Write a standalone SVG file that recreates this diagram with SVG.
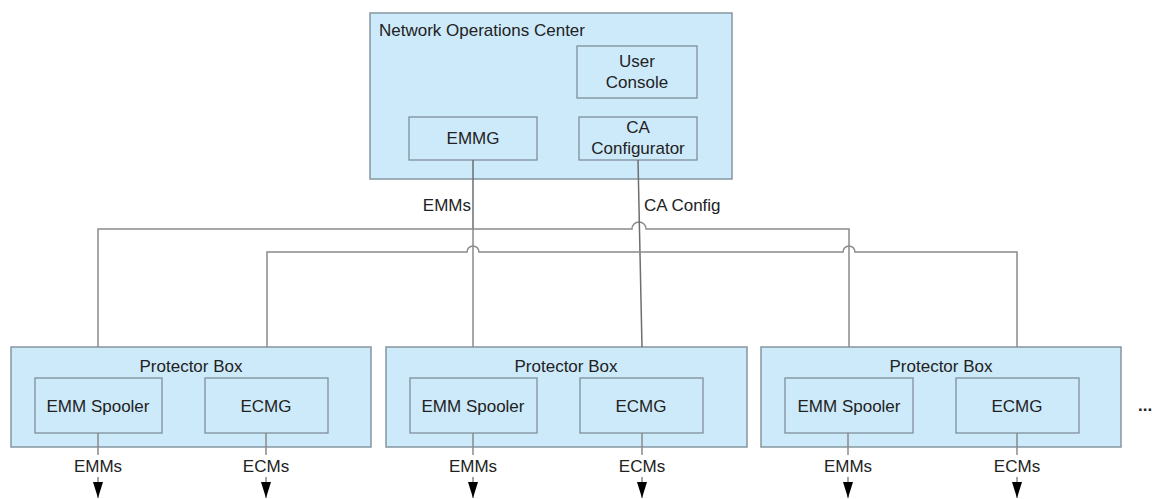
<svg xmlns="http://www.w3.org/2000/svg" width="1152" height="499" viewBox="0 0 1152 499">
  <style>
    text { font-family: "Liberation Sans", Arial, sans-serif; font-size: 17px; fill: #222222; }
    .mid { text-anchor: middle; }
    .outer { fill: #cdeafa; stroke: #8596a0; stroke-width: 1.5; }
    .inner { fill: #cdeafa; stroke: #7e8f9a; stroke-width: 1.3; }
    .wire { fill: none; stroke: #8a8a8a; stroke-width: 1.5; }
    .wire-dark { fill: none; stroke: #6e6e6e; stroke-width: 1.5; }
  </style>
  <defs>
    <!-- filled arrowhead, drawn along +x so orient="auto" turns it with the line -->
    <marker id="arrow" markerWidth="16" markerHeight="10" refX="16" refY="5" orient="auto" markerUnits="userSpaceOnUse" viewBox="0 0 16 10">
      <path d="M0,0 L16,5 L0,10 Z" fill="#000"/>
    </marker>
  </defs>
  <rect width="1152" height="499" fill="#ffffff"/>

  <!-- Network Operations Center -->
  <g id="noc">
    <rect class="outer" x="370" y="13" width="362" height="166"/>
    <text x="379" y="36">Network Operations Center</text>
  </g>
  <g id="user-console">
    <rect class="inner" x="577" y="46" width="120" height="52"/>
    <text class="mid" x="637" y="67">User</text>
    <text class="mid" x="637" y="88">Console</text>
  </g>
  <g id="emmg">
    <rect class="inner" x="409" y="117" width="128" height="43"/>
    <text class="mid" x="473" y="144">EMMG</text>
  </g>
  <g id="ca-configurator">
    <rect class="inner" x="579" y="117" width="118" height="43"/>
    <text class="mid" x="638" y="133">CA</text>
    <text class="mid" x="638" y="154">Configurator</text>
  </g>

  <!-- Protector boxes -->
  <g id="protector-1">
    <rect class="outer" x="11" y="347" width="360" height="100"/>
    <text class="mid" x="191" y="372">Protector Box</text>
  </g>
  <g id="emm-spooler-1">
    <rect class="inner" x="35" y="378" width="127" height="55"/>
    <text class="mid" x="98" y="412">EMM Spooler</text>
  </g>
  <g id="ecmg-1">
    <rect class="inner" x="205" y="378" width="123" height="55"/>
    <text class="mid" x="266" y="412">ECMG</text>
  </g>

  <g id="protector-2">
    <rect class="outer" x="386" y="347" width="361" height="100"/>
    <text class="mid" x="566" y="372">Protector Box</text>
  </g>
  <g id="emm-spooler-2">
    <rect class="inner" x="410" y="378" width="127" height="55"/>
    <text class="mid" x="473" y="412">EMM Spooler</text>
  </g>
  <g id="ecmg-2">
    <rect class="inner" x="580" y="378" width="123" height="55"/>
    <text class="mid" x="641" y="412">ECMG</text>
  </g>

  <g id="protector-3">
    <rect class="outer" x="761" y="347" width="360" height="100"/>
    <text class="mid" x="941" y="372">Protector Box</text>
  </g>
  <g id="emm-spooler-3">
    <rect class="inner" x="785" y="378" width="128" height="55"/>
    <text class="mid" x="849" y="412">EMM Spooler</text>
  </g>
  <g id="ecmg-3">
    <rect class="inner" x="956" y="378" width="123" height="55"/>
    <text class="mid" x="1017" y="412">ECMG</text>
  </g>

  <text id="more" x="1138" y="411" style="font-weight:bold">...</text>

  <!-- Connectors -->
  <g id="connectors">
    <!-- EMM distribution bus -->
    <path class="wire-dark" d="M473,160 V229"/>
    <path class="wire" d="M98,347 V229 H632 A7,7 0 0 1 646,229 H849 V347"/>
    <path class="wire" d="M473,229 V347"/>
    <!-- CA config bus -->
    <path class="wire-dark" d="M638,160 L642,347"/>
    <path class="wire" d="M267,347 V252 H467 A6,6 0 0 1 479,252 H843 A6,6 0 0 1 855,252 H1017 V347"/>

    <!-- Outputs -->
    <path class="wire" d="M98,433 V455"/>
    <path class="wire" d="M98,477 V498" marker-end="url(#arrow)"/>
    <path class="wire" d="M266,433 V455"/>
    <path class="wire" d="M266,477 V498" marker-end="url(#arrow)"/>
    <path class="wire" d="M473,433 V455"/>
    <path class="wire" d="M473,477 V498" marker-end="url(#arrow)"/>
    <path class="wire" d="M642,433 V455"/>
    <path class="wire" d="M642,477 V498" marker-end="url(#arrow)"/>
    <path class="wire" d="M848,433 V455"/>
    <path class="wire" d="M848,477 V498" marker-end="url(#arrow)"/>
    <path class="wire" d="M1017,433 V455"/>
    <path class="wire" d="M1017,477 V498" marker-end="url(#arrow)"/>
  </g>

  <!-- Connector labels -->
  <g id="labels">
    <text x="471" y="211" text-anchor="end">EMMs</text>
    <text x="644" y="211">CA Config</text>
    <text class="mid" x="98" y="472">EMMs</text>
    <text class="mid" x="266" y="472">ECMs</text>
    <text class="mid" x="473" y="472">EMMs</text>
    <text class="mid" x="642" y="472">ECMs</text>
    <text class="mid" x="848" y="472">EMMs</text>
    <text class="mid" x="1017" y="472">ECMs</text>
  </g>
</svg>
